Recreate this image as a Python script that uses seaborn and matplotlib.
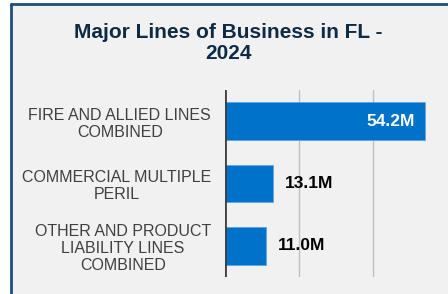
import matplotlib
matplotlib.use("Agg")
import matplotlib.pyplot as plt
import matplotlib.patches as mpatches
import seaborn as sns
import pandas as pd

categories = ["FIRE AND ALLIED LINES\nCOMBINED",
              "COMMERCIAL MULTIPLE\nPERIL",
              "OTHER AND PRODUCT\nLIABILITY LINES\nCOMBINED"]
values_m = [54.2, 13.1, 11.0]
labels = ["54.2M", "13.1M", "11.0M"]

df = pd.DataFrame({"line": categories, "value": values_m})

sns.set_theme(style="white")
plt.rcParams["font.family"] = ["Liberation Sans", "DejaVu Sans"]

bg = "#f1f1f1"
fig = plt.figure(figsize=(4.48, 2.94), dpi=100)
fig.patch.set_facecolor("white")

# card background + border (left and top edges visible)
card = mpatches.Rectangle((11 / 448, 0), 1, 1 - 4 / 294, transform=fig.transFigure,
                          facecolor=bg, edgecolor="none", zorder=-5)
fig.add_artist(card)
fig.add_artist(plt.Line2D([11 / 448, 11 / 448], [0, 1 - 4 / 294], transform=fig.transFigure,
                          color="#1f4e79", lw=2, zorder=-4))
fig.add_artist(plt.Line2D([11 / 448, 1], [1 - 4 / 294, 1 - 4 / 294], transform=fig.transFigure,
                          color="#1f4e79", lw=2, zorder=-4))

ax = fig.add_axes([225 / 448, 17 / 294, 220 / 448, 187 / 294])
ax.set_zorder(2)
ax.set_facecolor(bg)
sns.barplot(data=df, x="value", y="line", orient="h", color="#0072c9", saturation=1, width=0.6,
            edgecolor="#5aa5e6", linewidth=0.6, ax=ax, zorder=3)

ax.set_xlim(0, 59.5)
ax.set_ylim(2.5, -0.5)
for gx in [20, 40]:
    ax.axvline(gx, color="#bfbfbf", lw=1, zorder=1)
ax.axvline(0, color="#404040", lw=2, zorder=4)
for s in ax.spines.values():
    s.set_visible(False)
ax.set_xticks([])
ax.set_xlabel("")
ax.set_ylabel("")
ax.tick_params(axis="y", length=0, pad=10, labelsize=11.5, labelcolor="#404040")
for t in ax.get_yticklabels():
    t.set_multialignment("center")

for i, (v, lab) in enumerate(zip(values_m, labels)):
    if v > 30:
        ax.text(v - 3, i, lab, ha="right", va="center", color="white",
                fontsize=12.5, fontweight="bold", zorder=5)
    else:
        ax.text(v + 3.2, i, lab, ha="left", va="center", color="black",
                fontsize=12.5, fontweight="bold", zorder=5)

fig.text(228 / 448, 1 - 43 / 294, "Major Lines of Business in FL -\n2024", ha="center", va="center",
         fontsize=15, fontweight="bold", color="#0d2b45", linespacing=1.15)

fig.savefig("out.png", dpi=100, facecolor=fig.get_facecolor())
